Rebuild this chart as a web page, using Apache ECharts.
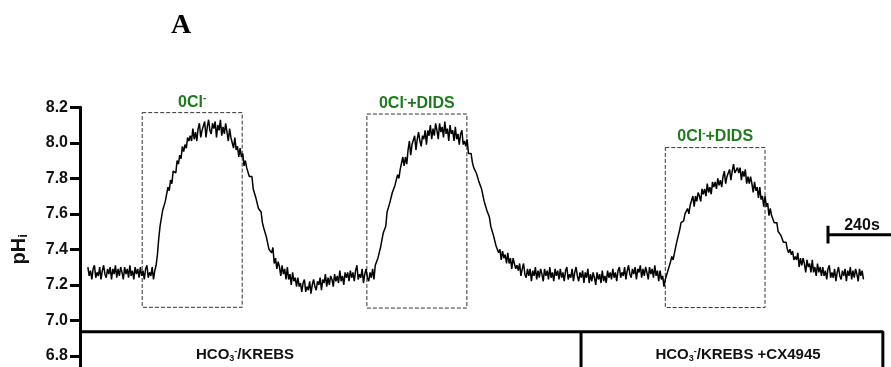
<!DOCTYPE html>
<html><head><meta charset="utf-8">
<script src="https://cdn.jsdelivr.net/npm/echarts@6/dist/echarts.min.js"></script>
<style>html,body{margin:0;padding:0;background:#fff}#c{width:891px;height:367px}</style>
</head><body><div id="c"></div>
<script>
// ---- data ----
const sampleStart = 30;   // s
const sampleStep = 5;     // s
const pHi = [
 7.30,7.25,7.28,7.23,7.29,7.31,7.24,7.27,7.25,7.30,7.23,7.28,7.31,7.26,7.24,7.29,7.26,7.30,7.23,7.29,
 7.26,7.31,7.24,7.29,7.25,7.30,7.27,7.23,7.30,7.26,7.29,7.24,7.31,7.25,7.28,7.23,7.30,7.26,7.29,7.24,
 7.30,7.25,7.28,7.23,7.29,7.31,7.24,7.27,7.25,7.30,7.23,7.28,7.31,7.37,7.46,7.53,7.54,7.62,7.61,7.67,
 7.68,7.75,7.73,7.79,7.77,7.84,7.84,7.83,7.90,7.88,7.93,7.91,7.98,7.95,7.99,7.97,8.03,8.01,8.04,8.01,
 8.08,8.02,8.06,8.01,8.08,8.11,8.03,8.07,8.06,8.12,8.03,8.09,8.13,8.07,8.05,8.11,8.08,8.12,8.03,8.10,
 8.07,8.13,8.04,8.09,8.05,8.11,8.06,8.01,8.08,8.03,8.04,7.97,8.03,7.96,7.98,7.92,7.97,7.92,7.94,7.87,
 7.90,7.86,7.86,7.81,7.82,7.81,7.74,7.73,7.69,7.69,7.63,7.63,7.61,7.55,7.52,7.52,7.47,7.47,7.40,7.41,
 7.38,7.41,7.32,7.35,7.29,7.33,7.30,7.25,7.31,7.26,7.29,7.23,7.30,7.23,7.26,7.20,7.27,7.22,7.24,7.19,
 7.24,7.19,7.21,7.16,7.21,7.23,7.16,7.19,7.17,7.22,7.15,7.20,7.23,7.19,7.17,7.22,7.20,7.24,7.17,7.23,
 7.21,7.26,7.19,7.24,7.20,7.25,7.23,7.19,7.26,7.22,7.25,7.21,7.28,7.22,7.25,7.20,7.27,7.24,7.27,7.22,
 7.28,7.24,7.27,7.22,7.28,7.31,7.23,7.26,7.24,7.29,7.21,7.26,7.29,7.24,7.22,7.27,7.24,7.29,7.23,7.31,
 7.30,7.35,7.34,7.41,7.42,7.49,7.51,7.53,7.61,7.61,7.66,7.65,7.72,7.71,7.76,7.75,7.82,7.80,7.85,7.84,
 7.92,7.87,7.92,7.88,7.96,8.01,7.93,7.99,7.98,8.04,7.96,8.02,8.06,8.01,7.98,8.04,8.02,8.07,7.99,8.07,
 8.04,8.10,8.02,8.08,8.04,8.11,8.07,8.02,8.11,8.06,8.09,8.03,8.12,8.05,8.08,8.01,8.10,8.05,8.07,8.01,
 8.09,8.02,8.05,7.99,8.05,8.07,7.99,8.01,7.98,8.02,7.94,7.95,7.94,7.89,7.86,7.87,7.83,7.84,7.78,7.78,
 7.74,7.74,7.67,7.67,7.62,7.62,7.58,7.53,7.54,7.48,7.47,7.42,7.43,7.38,7.40,7.34,7.39,7.35,7.37,7.32,
 7.38,7.32,7.35,7.29,7.35,7.36,7.29,7.31,7.28,7.32,7.25,7.29,7.32,7.26,7.24,7.29,7.25,7.29,7.22,7.28,
 7.25,7.30,7.23,7.28,7.24,7.29,7.26,7.22,7.29,7.25,7.28,7.23,7.30,7.24,7.27,7.22,7.29,7.25,7.28,7.23,
 7.29,7.24,7.27,7.22,7.28,7.30,7.23,7.26,7.24,7.29,7.22,7.27,7.30,7.25,7.22,7.27,7.24,7.28,7.21,7.27,
 7.24,7.29,7.21,7.26,7.22,7.27,7.24,7.20,7.27,7.23,7.26,7.21,7.28,7.22,7.25,7.21,7.28,7.24,7.27,7.23,
 7.29,7.24,7.27,7.22,7.28,7.30,7.24,7.27,7.25,7.30,7.23,7.28,7.31,7.26,7.24,7.29,7.26,7.30,7.23,7.29,
 7.27,7.31,7.24,7.29,7.25,7.30,7.27,7.23,7.30,7.26,7.29,7.24,7.31,7.25,7.28,7.22,7.28,7.23,7.25,7.19,
 7.23,7.22,7.28,7.28,7.33,7.36,7.34,7.38,7.39,7.45,7.44,7.51,7.55,7.56,7.56,7.60,7.59,7.63,7.60,7.65,
 7.64,7.70,7.64,7.70,7.67,7.72,7.70,7.67,7.74,7.71,7.74,7.70,7.77,7.72,7.75,7.71,7.78,7.75,7.78,7.74,
 7.80,7.76,7.79,7.75,7.81,7.84,7.77,7.81,7.80,7.85,7.79,7.84,7.88,7.83,7.82,7.86,7.83,7.86,7.79,7.84,
 7.81,7.85,7.77,7.81,7.77,7.81,7.77,7.72,7.78,7.73,7.75,7.69,7.75,7.68,7.70,7.64,7.70,7.64,7.66,7.59,
 7.63,7.59,7.59,7.55,7.56,7.55,7.50,7.51,7.48,7.49,7.44,7.45,7.44,7.40,7.38,7.40,7.37,7.39,7.34,7.36,
 7.34,7.38,7.30,7.35,7.31,7.35,7.32,7.27,7.34,7.30,7.32,7.27,7.34,7.27,7.30,7.25,7.32,7.27,7.30,7.25,
 7.30,7.25,7.28,7.23,7.29,7.31,7.24,7.27,7.24,7.29,7.22,7.27,7.30,7.25,7.23,7.28,7.25,7.29,7.22,7.28,
 7.25,7.30,7.23,7.28,7.24,7.29,7.26,7.22,7.29,7.25,7.28,7.23
];
// application windows (s) and box limits (pH)
const boxStart = [237, 1093, 2230];
const boxEnd   = [618, 1474, 2610];
const boxTop   = [8.17, 8.162, 7.973];
const boxBottom= [7.073, 7.069, 7.072];
const boxLabels = ['{a|0Cl}{s|-}', '{a|0Cl}{s|-}{a|+DIDS}', '{a|0Cl}{s|-}{a|+DIDS}'];
// solution periods (s)
const periodEdges = [0, 1909, 3059];
const periodLevel = 6.935;
// scale bar
const scaleBarStart = 2850, scaleBarLen = 240, scaleBarLevel = 7.482;
const yMin = 6.6, yMax = 8.2, yStep = 0.2;
const xMax = 3090;

// ---- chart ----
const G = '#1f7a1f';
const trace = pHi.map((v, i) => [sampleStart + i * sampleStep, v]);
const boxData = boxStart.map((s, i) => [
  {coord: [s, boxTop[i]], label: {formatter: boxLabels[i]}},
  {coord: [boxEnd[i], boxBottom[i]]}
]);
const blackLine = {color: '#000', width: 3};
const subRich = {
  b: {font: 'bold 15px "Liberation Sans", Arial, sans-serif', fill: '#111', lineHeight: 16},
  sub: {font: 'bold 9px "Liberation Sans", Arial, sans-serif', fill: '#111', verticalAlign: 'bottom', lineHeight: 8},
  sup: {font: 'bold 9px "Liberation Sans", Arial, sans-serif', fill: '#111', verticalAlign: 'top', lineHeight: 8}
};
const chart = echarts.init(document.getElementById('c'), null, {renderer: 'canvas'});
chart.setOption({
  animation: false,
  textStyle: {fontFamily: '"Liberation Sans", Arial, sans-serif'},
  grid: {left: 80, right: 0, top: 107.3, bottom: -24.3, containLabel: false, outerBoundsMode: 'none'},
  xAxis: {type: 'value', min: 0, max: xMax, show: false},
  yAxis: {
    type: 'value', min: yMin, max: yMax, interval: yStep,
    splitLine: {show: false},
    axisLine: {show: true, lineStyle: {color: '#000', width: 3}},
    axisTick: {show: true, length: 10, lineStyle: {color: '#000', width: 3}},
    axisLabel: {margin: 12, fontSize: 16, fontWeight: 'bold', color: '#111',
      formatter: v => v < 6.7 ? '' : v.toFixed(1)},
    name: '{m|pH}{i|i}', nameLocation: 'middle', nameGap: 50, nameRotate: 90,
    nameTextStyle: {rich: {
      m: {fontSize: 20, fontWeight: 'bold', color: '#111', lineHeight: 22},
      i: {fontSize: 13, fontWeight: 'bold', color: '#111', verticalAlign: 'bottom', lineHeight: 10}
    }}
  },
  series: [
    {type: 'line', data: trace, symbol: 'none', lineStyle: {color: '#000', width: 1.5}, z: 3,
     markArea: {silent: true,
       itemStyle: {color: 'rgba(0,0,0,0)', borderColor: '#333', borderWidth: 1, borderType: [4, 2]},
       label: {position: 'top', distance: 1, rich: {
         a: {fontSize: 16, fontWeight: 'bold', color: G, lineHeight: 18},
         s: {fontSize: 10, fontWeight: 'bold', color: G, verticalAlign: 'top', lineHeight: 8}
       }},
       data: boxData}},
    {type: 'line', symbol: 'none', lineStyle: blackLine, z: 4,
     data: [[periodEdges[0], periodLevel], [periodEdges[2], periodLevel], [periodEdges[2], yMin]]},
    {type: 'line', symbol: 'none', lineStyle: blackLine, z: 4,
     data: [[periodEdges[1], periodLevel], [periodEdges[1], yMin]]},
    {type: 'line', symbol: 'none', lineStyle: blackLine, z: 4,
     data: [[scaleBarStart, scaleBarLevel], [scaleBarStart + scaleBarLen, scaleBarLevel]]},
    {type: 'line', symbol: 'none', lineStyle: blackLine, z: 4,
     data: [[scaleBarStart, scaleBarLevel + 0.05], [scaleBarStart, scaleBarLevel - 0.05]]}
  ],
  graphic: [
    {type: 'text', x: 181, y: 26, style: {text: 'A', font: 'bold 28px "Liberation Serif", "Times New Roman", serif',
      fill: '#000', textAlign: 'center', textVerticalAlign: 'middle'}},
    {type: 'text', x: 862, y: 226, style: {text: '240s', font: 'bold 16px "Liberation Sans", Arial, sans-serif',
      fill: '#111', textAlign: 'center', textVerticalAlign: 'middle'}},
    {type: 'text', x: 245, y: 355, style: {text: '{b|HCO}{sub|3}{sup|-}{b|/KREBS}', textAlign: 'center', textVerticalAlign: 'middle',
      rich: subRich}},
    {type: 'text', x: 738, y: 355, style: {text: '{b|HCO}{sub|3}{sup|-}{b|/KREBS +CX4945}', textAlign: 'center', textVerticalAlign: 'middle',
      rich: subRich}}
  ]
});
</script>
</body></html>
